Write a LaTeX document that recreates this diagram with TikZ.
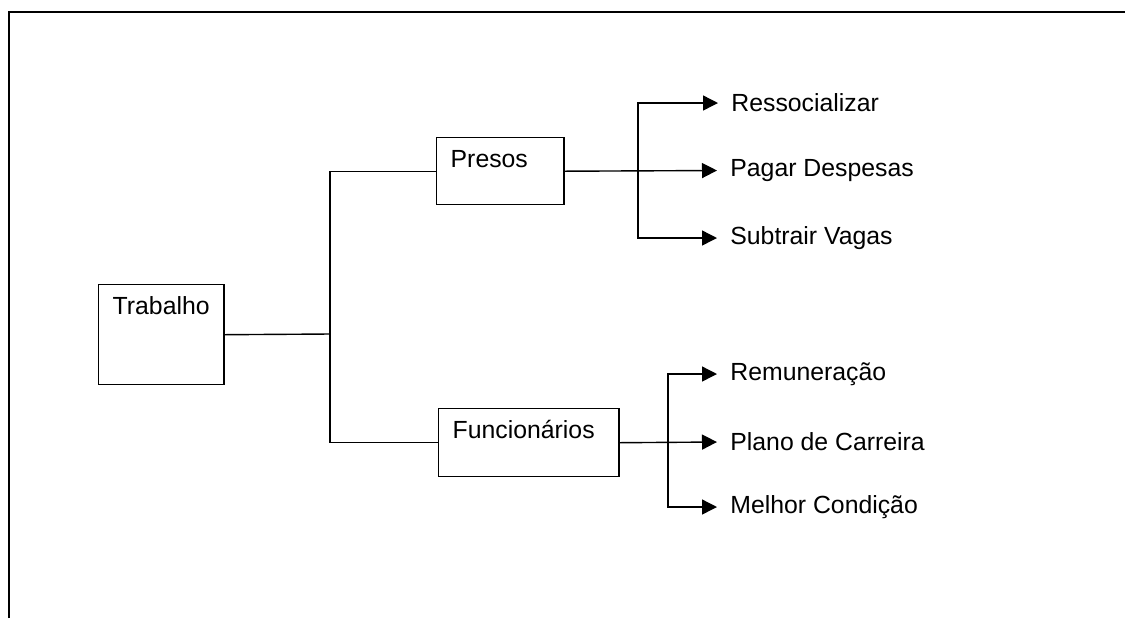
\documentclass[tikz,border=0pt]{standalone}
\usepackage{fontspec}
\setmainfont{Liberation Sans}
\usetikzlibrary{arrows.meta,positioning}

\begin{document}
\begin{tikzpicture}[x=0.5pt,y=-0.5pt,
    box/.style={draw, line width=0.7pt, anchor=north west, align=left,
        inner xsep=7pt, inner ysep=6pt, text height=9pt,
        font=\fontsize{12.4}{14}\selectfont},
    leaf/.style={anchor=west, inner xsep=6.5pt, font=\fontsize{12.4}{14}\selectfont},
    link/.style={line width=0.7pt},
    arr/.style={link, -{Triangle[length=7.5pt,width=7.5pt]}}]
    \useasboundingbox (0,0) rectangle (1125,618);
    % page frame
    \draw[line width=1pt] (8.5,618) -- (8.5,12) -- (1125,12);

    % boxes
    \node[box, text width=48.6pt, text depth=29pt] (trab) at (98,284) {Trabalho};
    \node[box, text width=49.6pt, text depth=12.5pt] (presos) at (436,137) {Presos};
    \node[box, text width=76.1pt, text depth=13pt] (func) at (438,408) {Funcionários};

    % Trabalho to both groups
    \coordinate (split) at (330,334);
    \draw[link] (trab.east) -- (split);
    \draw[link] (presos.west) -| (split) |- (func.west);

    % Presos branch
    \node[leaf] (ress) at (718,103) {Ressocializar};
    \node[leaf] (pagar) at (717,170.5) {Pagar Despesas};
    \node[leaf] (subtr) at (717,238) {Subtrair Vagas};
    \coordinate (psplit) at (638,170.5);
    \draw[arr] (presos.east) -- (pagar.west);
    \draw[arr] (psplit) |- (ress.west);
    \draw[arr] (psplit) |- (subtr.west);

    % Funcionarios branch
    \node[leaf] (remun) at (717,374) {Remuneração};
    \node[leaf] (plano) at (717,442) {Plano de Carreira};
    \node[leaf] (melhor) at (717,507) {Melhor Condição};
    \coordinate (fsplit) at (668,442);
    \draw[arr] (func.east) -- (plano.west);
    \draw[arr] (fsplit) |- (remun.west);
    \draw[arr] (fsplit) |- (melhor.west);
\end{tikzpicture}
\end{document}
